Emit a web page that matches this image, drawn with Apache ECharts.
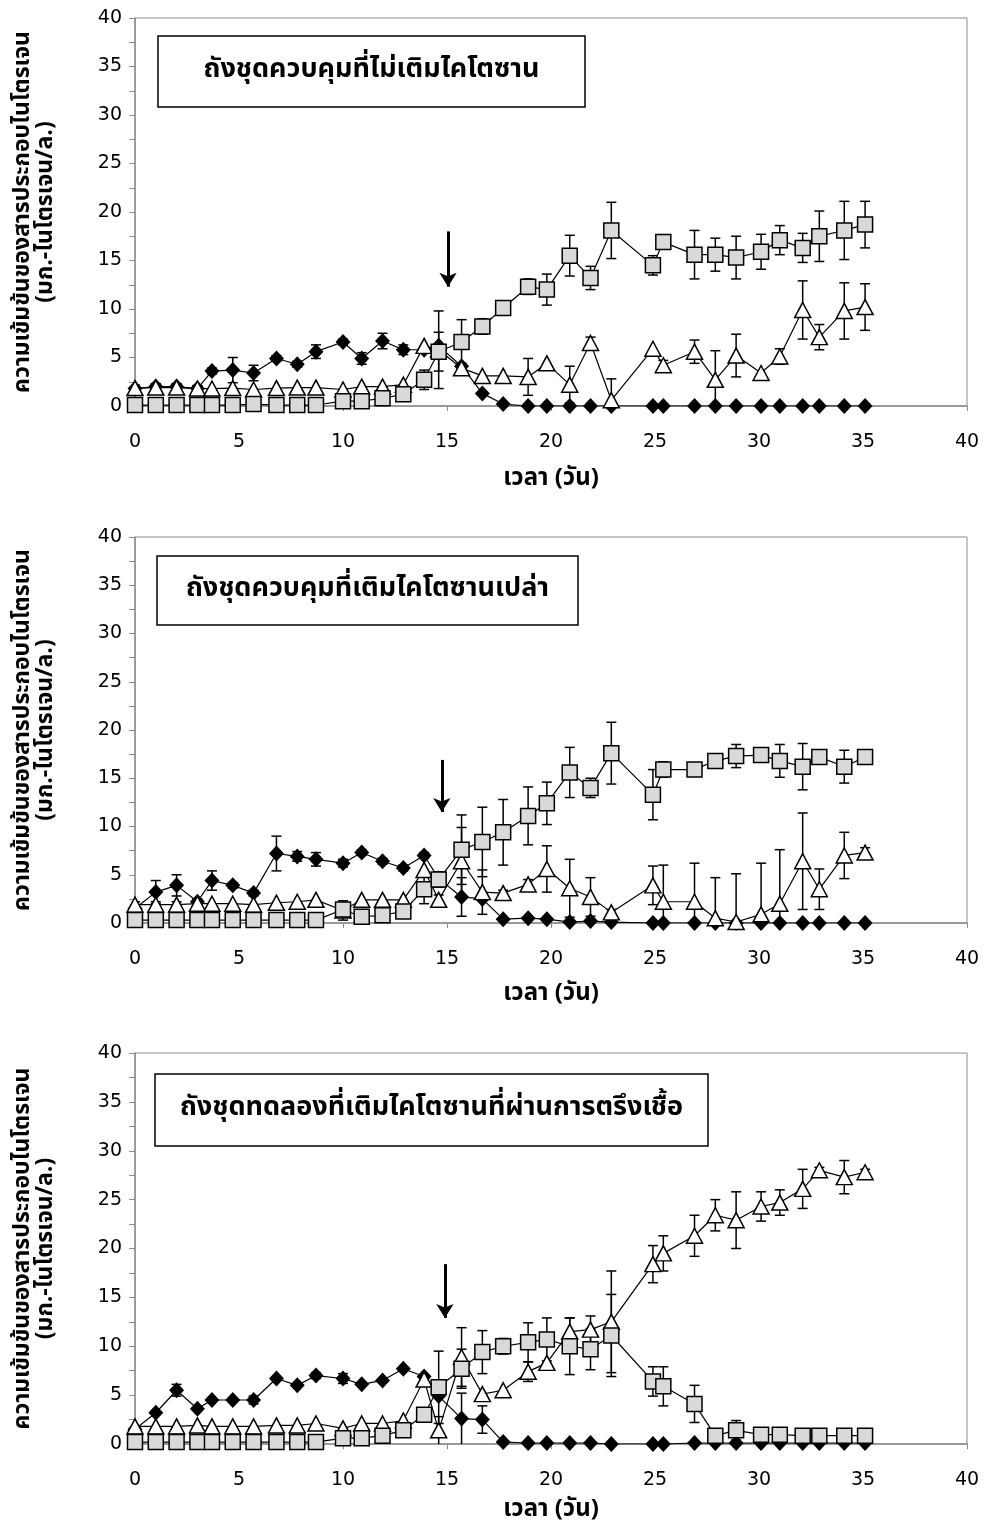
<!DOCTYPE html>
<html>
<head>
<meta charset="utf-8">
<script src="https://cdn.jsdelivr.net/npm/echarts@6/dist/echarts.min.js"></script>
<style>
html,body{margin:0;padding:0;background:#fff;}
#chart{width:989px;height:1526px;}
</style>
</head>
<body>
<div id="chart"></div>
<script>
// ---- data ----
const days = [0,1,2,3,3.7,4.7,5.7,6.8,7.8,8.7,10,10.9,11.9,12.9,13.9,14.6,15.7,16.7,17.7,18.9,19.8,20.9,21.9,22.9,24.9,25.4,26.9,27.9,28.9,30.1,31.0,32.1,32.9,34.1,35.1];
const xTicks = [0,5,10,15,20,25,30,35,40];
const yTicks = [0,5,10,15,20,25,30,35,40];

// panel 1
const p1Diamond    = [1.8,2.0,2.0,1.8,3.6,3.7,3.4,4.9,4.3,5.6,6.6,4.9,6.7,5.8,5.8,6.2,4.1,1.3,0.2,0,0,0,0,0,0,0,0,0,0,0,0,0,0,0,0];
const p1DiamondErr = [0.3,0.3,0.3,0.3,0.3,1.3,0.8,0.3,0.3,0.7,0.3,0.6,0.8,0.5,0.3,0,0,0,0,0,0,0,0,0,0,0,0,0,0,0,0,0,0,0,0];
const p1Tri        = [1.85,1.9,1.9,1.8,1.8,1.85,1.7,1.85,1.9,1.9,1.7,2.0,2.0,2.2,6.2,5.8,3.9,3.1,3.1,3.0,4.4,2.2,6.5,0.6,5.9,4.2,5.6,2.7,5.2,3.4,5.1,9.9,7.1,9.8,10.2];
const p1TriErr     = [0.3,0.4,0.4,0.3,0,0,0,0,0,0,0,0,0,0,0,4.0,0.5,0,0,1.9,0,1.9,0.6,2.2,0,0.5,1.2,3.0,2.2,0,0.8,3.0,1.3,2.9,2.4];
const p1Sq         = [0.1,0.1,0.1,0.1,0.1,0.1,0.2,0.1,0.1,0.1,0.5,0.5,0.8,1.2,2.7,5.6,6.6,8.2,10.1,12.3,12.0,15.5,13.2,18.1,14.5,16.9,15.6,15.6,15.3,15.9,17.1,16.3,17.5,18.1,18.7];
const p1SqErr      = [0,0,0,0,0,0,0,0,0,0,0.2,0.2,0.3,0.3,1.0,2.0,2.3,0.8,0.3,0.8,1.6,2.1,1.2,2.9,1.0,0.3,2.5,1.7,2.2,1.8,1.5,1.5,2.6,3.0,2.4];

// panel 2
const p2Diamond    = [1.5,3.2,3.9,2.2,4.4,3.9,3.1,7.2,6.9,6.6,6.2,7.3,6.4,5.7,7.0,4.6,2.7,2.5,0.4,0.5,0.4,0.1,0.2,0.1,0,0,0,0,0,0,0,0,0,0,0];
const p2DiamondErr = [0,1.2,1.1,0.3,1.0,0.3,0.3,1.8,0.5,0.7,0.4,0.3,0.3,0.3,0.3,0,2.0,0,0,0,0,0,0,0,0,0,0,0,0,0,0,0,0,0,0];
const p2Tri        = [1.9,1.9,1.9,2.0,2.0,2.0,1.9,2.1,2.2,2.4,1.3,2.4,2.4,2.4,5.5,2.4,6.4,3.2,3.1,4.0,5.6,3.6,2.7,1.1,3.9,2.2,2.2,0.5,0.1,0.9,2.0,6.4,3.5,7.0,7.3];
const p2TriErr     = [0.3,0.3,0.3,0,0,0,0,0,0,0,1.0,0,0,0,0,0.5,3.5,2.3,0.3,0.5,2.4,3.0,2.0,0.3,2.0,3.8,4.0,4.2,5.0,5.3,5.6,5.0,2.1,2.4,0.5];
const p2Sq         = [0.3,0.3,0.3,0.3,0.3,0.3,0.3,0.3,0.3,0.3,1.4,0.65,0.8,1.2,3.5,4.5,7.6,8.4,9.4,11.1,12.4,15.6,14.0,17.6,13.3,15.9,15.9,16.8,17.3,17.4,16.8,16.2,17.2,16.2,17.2];
const p2SqErr      = [0,0,0,0,0,0,0,0,0,0,0.5,0,0,0,1.5,0.8,3.6,3.6,3.4,3.0,2.2,2.6,1.0,3.2,2.6,0.8,0.3,0.3,1.2,0.3,1.7,2.4,0.3,1.7,0.3];

// panel 3
const p3Diamond    = [1.5,3.2,5.5,3.6,4.5,4.5,4.5,6.7,6.0,7.0,6.7,6.1,6.5,7.7,6.9,4.9,2.6,2.5,0.2,0.1,0.1,0.1,0.1,0,0,0,0.1,0.1,0.1,0.1,0.1,0.1,0.1,0.1,0.1];
const p3DiamondErr = [0,0,0.6,0,0,0,0.4,0,0,0.3,0.5,0,0,0,0,0,2.6,1.4,0,0,0,0,0,0,0,0,0,0,0,0,0,0,0,0,0];
const p3Tri        = [1.8,1.8,1.8,1.9,1.8,1.8,1.8,1.9,1.9,2.1,1.6,2.1,2.1,2.4,6.6,1.4,8.9,5.1,5.5,7.4,8.3,11.5,11.7,12.5,18.4,19.5,21.3,23.4,22.9,24.3,24.7,26.1,28.0,27.3,27.8];
const p3TriErr     = [0,0,0,0,0,0,0,0,0,0,0,0,0,0,0,1.4,3.0,0,0,1.0,0,1.4,1.4,5.2,1.9,1.8,2.1,1.6,2.9,1.5,1.3,2.0,0.3,1.7,0.3];
const p3Sq         = [0.2,0.2,0.2,0.2,0.2,0.2,0.2,0.2,0.2,0.2,0.6,0.6,0.85,1.4,3.0,5.8,7.7,9.4,10.0,10.4,10.7,10.0,9.7,11.1,6.4,5.9,4.1,0.85,1.4,0.95,0.95,0.85,0.85,0.85,0.85];
const p3SqErr      = [0,0,0,0,0,0,0,0,0,0,0.2,0.2,0.2,0,0,3.7,2.0,2.2,0.8,2.0,2.2,2.9,2.1,4.2,1.5,2.0,1.9,0,1.0,0,0,0,0,0,0];

// annotation texts and arrows (day, top value, tip value)
const panelTitles = ['ถังชุดควบคุมที่ไม่เติมไคโตซาน','ถังชุดควบคุมที่เติมไคโตซานเปล่า','ถังชุดทดลองที่เติมไคโตซานที่ผ่านการตรึงเชื้อ'];
const arrowX   = [15.05, 14.75, 14.9];
const arrowTop = [18.0, 16.9, 18.4];
const arrowTip = [12.3, 11.5, 12.9];
const xName = 'เวลา (วัน)';
const yName = 'ความเข้มข้นของสารประกอบไนโตรเจน\n(มก.-ไนโตรเจน/ล.)';

// ---- layout ----
const grids = [
  {left:135, top:18,   width:832, height:388},
  {left:135, top:537,  width:832, height:386},
  {left:135, top:1053, width:832, height:391}
];
const xNameGaps = [62, 60, 55];
const boxes = [
  {x:158, y:36,   w:427, h:71},
  {x:157, y:556,  w:421, h:69},
  {x:155, y:1074, w:553, h:72}
];
const FONT = 'Tahoma, "Noto Sans Thai", "Noto Sans", "DejaVu Sans", sans-serif';

const panels = [
  [p1Diamond,p1DiamondErr,p1Tri,p1TriErr,p1Sq,p1SqErr],
  [p2Diamond,p2DiamondErr,p2Tri,p2TriErr,p2Sq,p2SqErr],
  [p3Diamond,p3DiamondErr,p3Tri,p3TriErr,p3Sq,p3SqErr]
];

function pts(vals){ return days.map((d,i)=>[d, vals[i]]); }
function errPts(vals, errs){
  const out=[];
  days.forEach((d,i)=>{ if(errs[i]>0) out.push([d, vals[i]-errs[i], vals[i]+errs[i]]); });
  return out;
}
function errRender(params, api){
  const x=api.value(0), lo=Math.max(0, api.value(1)), hi=api.value(2);
  const a=api.coord([x,lo]), b=api.coord([x,hi]);
  const w=5, st={stroke:'#000', lineWidth:1.5};
  const ch=[{type:'line',shape:{x1:a[0],y1:a[1],x2:b[0],y2:b[1]},style:st},
            {type:'line',shape:{x1:b[0]-w,y1:b[1],x2:b[0]+w,y2:b[1]},style:st}];
  if(api.value(1)>0) ch.push({type:'line',shape:{x1:a[0]-w,y1:a[1],x2:a[0]+w,y2:a[1]},style:st});
  return {type:'group', children:ch};
}

const xAxes=[], yAxes=[], series=[], graphics=[];
panels.forEach((p,k)=>{
  xAxes.push({type:'value', gridIndex:k, min:0, max:40, interval:5,
    name:xName, nameLocation:'middle', nameGap:xNameGaps[k],
    nameTextStyle:{fontFamily:FONT, fontSize:24, fontWeight:'bold', color:'#000'},
    axisLine:{show:true, onZero:false, lineStyle:{color:'#8c8c8c', width:1.5}},
    axisTick:{show:true, inside:false, length:5, lineStyle:{color:'#8c8c8c'}},
    axisLabel:{fontFamily:'"DejaVu Sans", sans-serif', fontSize:19, color:'#000', margin:27,
      formatter:v=> xTicks.includes(v)? String(v):''},
    splitLine:{show:false}});
  yAxes.push({type:'value', gridIndex:k, min:0, max:40, interval:5,
    name:yName, nameLocation:'middle', nameRotate:90, nameGap:76,
    nameTextStyle:{fontFamily:FONT, fontSize:23, fontWeight:'bold', color:'#000', lineHeight:23},
    axisLine:{show:true, lineStyle:{color:'#8c8c8c', width:1.5}},
    axisTick:{show:true, inside:false, length:6, lineStyle:{color:'#8c8c8c'}},
    minorTick:{show:true, splitNumber:2, length:6, lineStyle:{color:'#8c8c8c'}},
    axisLabel:{fontFamily:'"DejaVu Sans", sans-serif', fontSize:19, color:'#000', margin:13,
      formatter:v=> yTicks.includes(v)? String(v):''},
    splitLine:{show:false}});
  const [dv,de,tv,te,sv,se]=p;
  const ebase={type:'custom', xAxisIndex:k, yAxisIndex:k, renderItem:errRender, clip:true, silent:true, z:1,
               encode:{x:0, y:[1,2]}};
  series.push(Object.assign({}, ebase, {data:errPts(dv,de)}));
  series.push(Object.assign({}, ebase, {data:errPts(tv,te)}));
  series.push(Object.assign({}, ebase, {data:errPts(sv,se)}));
  series.push({type:'line', xAxisIndex:k, yAxisIndex:k, data:pts(dv), z:2,
    symbol:'diamond', symbolSize:[15,16], showAllSymbol:true,
    itemStyle:{color:'#000', borderColor:'#000', borderWidth:0},
    lineStyle:{color:'#000', width:1.2}});
  series.push({type:'line', xAxisIndex:k, yAxisIndex:k, data:pts(tv), z:3,
    symbol:'triangle', symbolSize:[16,15], showAllSymbol:true,
    itemStyle:{color:'#fff', borderColor:'#000', borderWidth:1.5},
    lineStyle:{color:'#000', width:1.2}});
  series.push({type:'line', xAxisIndex:k, yAxisIndex:k, data:pts(sv), z:4,
    symbol:'rect', symbolSize:[15,15], showAllSymbol:true,
    itemStyle:{color:'#d9d9d9', borderColor:'#000', borderWidth:1.5},
    lineStyle:{color:'#000', width:1.2},
    markLine:{silent:true, animation:false, symbol:['none','arrow'], symbolSize:[13,14],
      label:{show:false}, lineStyle:{color:'#000', width:3, type:'solid'},
      data:[[{coord:[arrowX[k], arrowTop[k]]},{coord:[arrowX[k], arrowTip[k]]}]]}});
  const b=boxes[k];
  graphics.push({type:'rect', shape:{x:b.x, y:b.y, width:b.w, height:b.h},
    style:{fill:'#fff', stroke:'#000', lineWidth:1.5}, z:10});
  graphics.push({type:'text', x:b.x+b.w/2, y:b.y+b.h/2, z:11,
    style:{text:panelTitles[k], fontFamily:FONT, fontSize:27, fontWeight:'bold', fill:'#000', align:'center', verticalAlign:'middle'}});
});

const chart = echarts.init(document.getElementById('chart'), null, {renderer:'canvas'});
chart.setOption({
  animation:false,
  backgroundColor:'#fff',
  grid: grids.map(g=>Object.assign({show:true, borderColor:'#8c8c8c', borderWidth:1, backgroundColor:'transparent',
        containLabel:false, outerBoundsMode:'none'}, g)),
  xAxis:xAxes, yAxis:yAxes, series:series, graphic:graphics
});
</script>
</body>
</html>
